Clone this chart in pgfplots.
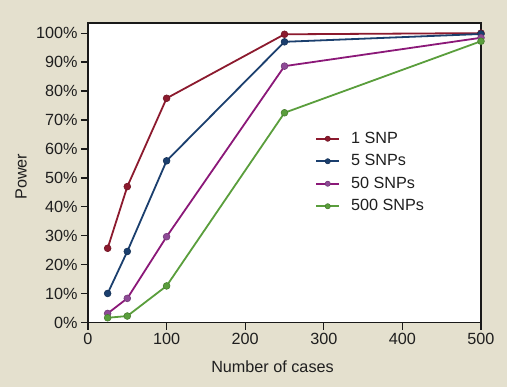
\documentclass[border=0pt]{standalone}
\usepackage{fontspec}
\setmainfont{Liberation Sans}
\usepackage{pgfplots}
\pgfplotsset{compat=1.18}
\definecolor{bg}{HTML}{E4E0CE}
\definecolor{cred}{HTML}{8C1A2E}
\definecolor{cblue}{HTML}{1B3F6E}
\definecolor{cmag}{HTML}{8B1878}
\definecolor{cpurp}{HTML}{8E4A96}
\definecolor{cgreen}{HTML}{5A9E3C}
\begin{document}
\begin{tikzpicture}
\fill[bg] (-88pt,-64.3pt) rectangle (419pt,322.7pt);
\begin{axis}[
  scale only axis, width=393pt, height=299.7pt,
  xmin=0, xmax=500, ymin=0, ymax=103.5,
  xtick={0,100,...,500}, ytick={0,10,...,100},
  yticklabel={\pgfmathprintnumber{\tick}\%},
  /pgf/number format/assume math mode=true,
  tick align=outside, major tick length=7pt,
  tick pos=left,
  axis line style={line width=1.3pt, black!90},
  tick style={line width=1.2pt, black!90},
  axis background/.style={fill=white},
  ticklabel style={font=\fontsize{16.2}{18}\selectfont, text=black!88},
  xlabel={Number of cases}, ylabel={Power},
  label style={font=\fontsize{16.2}{18}\selectfont, text=black!88},
  xlabel style={at={(axis description cs:0.4695,-0.147)}, anchor=center},
  ylabel style={at={(axis description cs:-0.17,0.487)}, anchor=center},
  clip=false,
  every axis plot/.append style={line width=1.8pt},
  legend image code/.code={\draw[mark repeat=2,mark phase=2,mark size=2.6pt] plot coordinates {(0pt,0pt) (11.5pt,0pt) (23pt,0pt)};},
  legend style={at={(axis description cs:0.578,0.652)}, anchor=north west,
    draw=none, fill=none, inner sep=0pt, row sep=0pt,
    font=\fontsize{16.2}{18}\selectfont, text=black!88,
    nodes={text height=11.7pt, text depth=3pt, inner ysep=3.9pt, inner xsep=0pt},
    /tikz/every odd column/.append style={column sep=11pt},
    cells={anchor=west}},
]
\addplot[color=cred, mark=*, mark size=3.4pt, mark options={fill=cred, draw=cred!80!black, line width=0.6pt}]
  coordinates {(25,25.7) (50,47) (100,77.5) (250,99.6) (500,100)};
\addlegendentry{1 SNP}
\addplot[color=cblue, mark=*, mark size=3.4pt, mark options={fill=cblue, draw=cblue!80!black, line width=0.6pt}]
  coordinates {(25,10.1) (50,24.6) (100,55.9) (250,97) (500,99.7)};
\addlegendentry{5 SNPs}
\addplot[color=cmag, mark=*, mark size=3.4pt, mark options={fill=cpurp, draw=cpurp!80!black, line width=0.6pt}]
  coordinates {(25,3.2) (50,8.4) (100,29.7) (250,88.6) (500,98.4)};
\addlegendentry{50 SNPs}
\addplot[color=cgreen, mark=*, mark size=3.4pt, mark options={fill=cgreen, draw=cgreen!80!black, line width=0.6pt}]
  coordinates {(25,1.7) (50,2.3) (100,12.7) (250,72.5) (500,97.2)};
\addlegendentry{500 SNPs}
\end{axis}
\end{tikzpicture}
\end{document}
